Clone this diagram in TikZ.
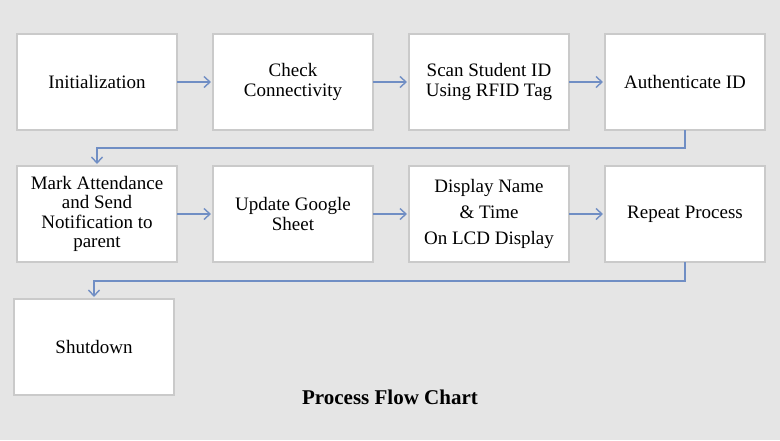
\documentclass[tikz,border=0pt]{standalone}
\usepackage{fontspec}
\setmainfont{Liberation Serif}
\usepackage{xcolor}
\usepackage{tikz}
\usetikzlibrary{arrows.meta,positioning}

\definecolor{bggray}{RGB}{229,229,229}
\definecolor{boxline}{RGB}{202,202,202}
\definecolor{flowblue}{RGB}{112,142,196}

\begin{document}
\begin{tikzpicture}[node distance=18pt, font=\fontsize{9.5}{9.8}\selectfont]
\tikzstyle{box}=[draw=boxline, fill=white, line width=0.6pt, align=center, minimum width=80pt, minimum height=48pt, inner sep=2pt, outer sep=0pt]
\tikzstyle{flow}=[draw=flowblue, line width=0.7pt, -{Straight Barb[length=3pt,width=5.5pt]}, shorten >=1pt]

\fill[bggray] (0,0) rectangle (390pt,-220pt);

\node[box] (init) at (48.5pt,-41pt) {Initialization};
\node[box, right=of init] (check) {Check\\Connectivity};
\node[box, right=of check] (scan) {Scan Student ID\\Using RFID Tag};
\node[box, right=of scan] (auth) {Authenticate ID};

\node[box, below=of init] (mark) {Mark Attendance\\and Send\\Notification to\\parent};
\node[box, right=of mark] (sheet) {Update Google\\Sheet};
\node[box, right=of sheet] (lcd) {Display Name\\[3.3pt]\& Time\\[3.3pt]On LCD Display};
\node[box, right=of lcd] (repeat) {Repeat Process};

\node[box, below=18.5pt of mark, xshift=-1.5pt] (shut) {Shutdown};
\node[font=\fontsize{10.5}{10.5}\selectfont\bfseries] (title) at (195pt,-198.5pt) {Process Flow Chart};

\draw[flow] (init) -- (check);
\draw[flow] (check) -- (scan);
\draw[flow] (scan) -- (auth);
\draw[flow] (auth.south) -- ++(0,-9pt) -| (mark.north);
\draw[flow] (mark) -- (sheet);
\draw[flow] (sheet) -- (lcd);
\draw[flow] (lcd) -- (repeat);
\draw[flow] (repeat.south) -- ++(0,-9.5pt) -| (shut.north);
\end{tikzpicture}
\end{document}
